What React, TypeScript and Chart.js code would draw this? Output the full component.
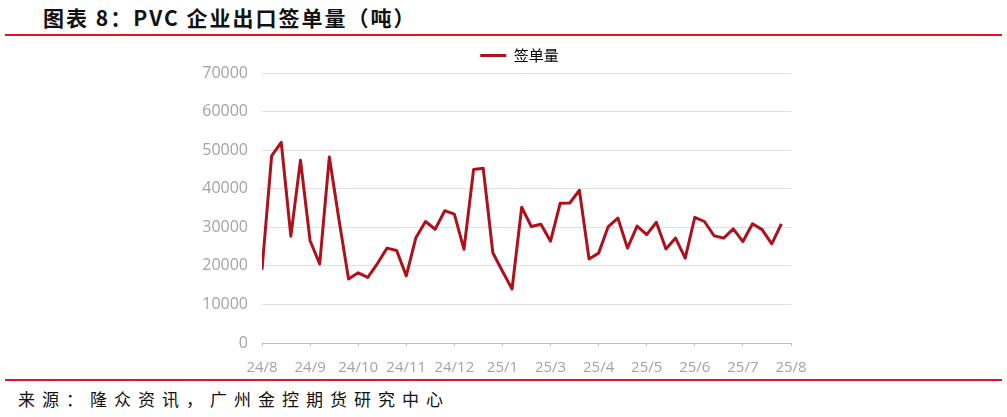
import React, { useEffect, useRef } from 'react';
import { Chart, registerables } from 'chart.js';

Chart.register(...registerables);

const TITLE = '图表 8：PVC 企业出口签单量（吨）';
const SOURCE = '来源：隆众资讯，广州金控期货研究中心';
const SERIES_NAME = '签单量';

// x-axis tick labels, one every TICK_EVERY weekly points
const tickLabels = ['24/8', '24/9', '24/10', '24/11', '24/12', '25/1', '25/3', '25/4', '25/5', '25/6', '25/7', '25/8'];
const TICK_EVERY = 5;

// weekly export order volume (tons)
const orderVolume = [
  19000, 48500, 52000, 27700, 47400, 26500, 20500, 48200, 32000, 16600,
  18200, 17000, 20600, 24600, 24000, 17400, 27300, 31500, 29500, 34300,
  33400, 24300, 45000, 45300, 23400, 18600, 14000, 35200, 30200, 30800,
  26400, 36200, 36300, 39600, 21800, 23300, 30200, 32400, 24600, 30300,
  28100, 31300, 24400, 27200, 22000, 32600, 31500, 27800, 27200, 29600,
  26300, 30900, 29400, 25700, 30900,
];

const yTicks = { min: 0, max: 70000, step: 10000 };

const RED = '#AE111C';
const LABEL_GREY = '#a3a3a3';
const GRID_GREY = '#e0e0e0';
const AXIS_GREY = '#bdbdbd';
const FONT = '"Open Sans", "Noto Sans", sans-serif';

function LineChart() {
  const ref = useRef<HTMLCanvasElement | null>(null);
  useEffect(() => {
    if (!ref.current) return;
    const chart = new Chart(ref.current, {
      type: 'line',
      data: {
        datasets: [
          {
            label: SERIES_NAME,
            data: orderVolume.map((v, i) => ({ x: i, y: v })),
            borderColor: RED,
            backgroundColor: RED,
            borderWidth: 3,
            pointRadius: 0,
            tension: 0,
            borderJoinStyle: 'round',
            yAxisID: 'y',
          },
        ],
      },
      options: {
        responsive: false,
        animation: false,
        layout: { padding: { left: 0, right: 0, top: 0, bottom: 0 } },
        plugins: {
          tooltip: { enabled: false },
          legend: {
            display: true,
            position: 'top',
            align: 'center',
            labels: {
              boxWidth: 26,
              boxHeight: 3,
              padding: 8,
              color: '#8f8f8f',
              font: { size: 15, family: '"Noto Sans CJK SC", sans-serif' },
              generateLabels: () => [
                {
                  text: SERIES_NAME,
                  fillStyle: RED,
                  strokeStyle: RED,
                  lineWidth: 0,
                  hidden: false,
                  datasetIndex: 0,
                },
              ],
            },
          },
        },
        scales: {
          x: {
            type: 'linear',
            min: 0,
            max: (tickLabels.length - 1) * TICK_EVERY,
            afterFit: (s: any) => {
              s.height = 32;
            },
            ticks: {
              stepSize: TICK_EVERY,
              autoSkip: false,
              maxRotation: 0,
              minRotation: 0,
              padding: 13,
              color: LABEL_GREY,
              font: { size: 15, family: FONT },
              callback: (v: any) => tickLabels[Math.round(Number(v) / TICK_EVERY)] ?? '',
            },
            grid: {
              drawOnChartArea: false,
              drawTicks: true,
              tickLength: 3,
              tickColor: AXIS_GREY,
            },
            border: { display: true, color: AXIS_GREY, width: 1 },
          },
          y: {
            position: 'left',
            min: yTicks.min,
            max: yTicks.max,
            afterFit: (s: any) => {
              s.width = 82;
            },
            ticks: {
              stepSize: yTicks.step,
              padding: 14,
              color: LABEL_GREY,
              font: { size: 16, family: FONT },
              callback: (v: any) => String(v),
            },
            grid: { color: GRID_GREY, drawTicks: false, lineWidth: 1 },
            border: { display: false },
          },
          // empty right-hand spacer so the legend centres where the reference has it
          ySpacer: {
            position: 'right',
            min: yTicks.min,
            max: yTicks.max,
            afterFit: (s: any) => {
              s.width = 68;
            },
            ticks: { display: false },
            grid: { display: false, drawTicks: false },
            border: { display: false },
          },
        },
      },
    } as any);
    return () => chart.destroy();
  }, []);
  return (
    <canvas
      ref={ref}
      width={679}
      height={335}
      style={{ position: 'absolute', left: 180, top: 40, width: 679, height: 335 }}
    />
  );
}

export default function App() {
  return (
    <div
      style={{
        position: 'absolute',
        left: 0,
        top: 0,
        width: 1007,
        height: 417,
        background: '#ffffff',
        overflow: 'hidden',
      }}
    >
      <div
        style={{
          position: 'absolute',
          left: 43,
          top: 5,
          fontFamily: '"Noto Sans CJK SC", sans-serif',
          fontWeight: 700,
          fontSize: 21,
          lineHeight: '24px',
          letterSpacing: '2px',
          color: '#111',
          whiteSpace: 'nowrap',
        }}
      >
        {TITLE}
      </div>
      <div style={{ position: 'absolute', left: 5, top: 34, width: 997, height: 1.5, background: '#E0141E' }} />
      <LineChart />
      <div style={{ position: 'absolute', left: 5, top: 379, width: 997, height: 1.5, background: '#E0141E' }} />
      <div
        style={{
          position: 'absolute',
          left: 18,
          top: 388,
          fontFamily: '"Noto Sans CJK SC", sans-serif',
          fontWeight: 400,
          fontSize: 17,
          lineHeight: '22px',
          letterSpacing: '7px',
          color: '#111',
          whiteSpace: 'nowrap',
        }}
      >
        {SOURCE}
      </div>
    </div>
  );
}
